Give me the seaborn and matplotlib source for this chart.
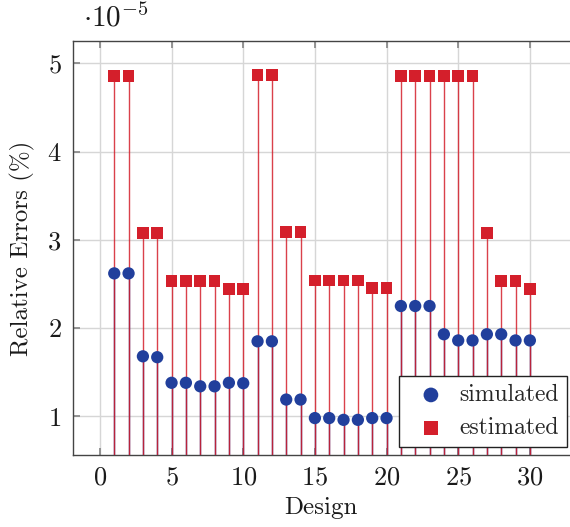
import numpy as np
import pandas as pd
import seaborn as sns
import matplotlib.pyplot as plt

sns.set_theme(style="whitegrid")
plt.rcParams['font.family'] = ['cmr10', 'DejaVu Serif']
plt.rcParams['mathtext.fontset'] = 'cm'
plt.rcParams['axes.formatter.use_mathtext'] = True

# values in units of 1e-5
design = list(range(1, 31))
simulated = [2.62, 2.62, 1.68, 1.67, 1.38, 1.38, 1.34, 1.34, 1.38, 1.375,
             1.85, 1.85, 1.19, 1.19, 0.98, 0.98, 0.96, 0.96, 0.98, 0.98,
             2.25, 2.25, 2.25, 1.93, 1.86, 1.86, 1.93, 1.93, 1.86, 1.86]
estimated = [4.86, 4.86, 3.08, 3.08, 2.53, 2.53, 2.53, 2.53, 2.44, 2.44,
             4.87, 4.87, 3.09, 3.09, 2.54, 2.54, 2.54, 2.54, 2.45, 2.45,
             4.86, 4.86, 4.86, 4.86, 4.86, 4.86, 3.08, 2.53, 2.53, 2.44]

blue = '#213f9c'
red = '#d41f2b'

df = pd.DataFrame({'design': design, 'simulated': simulated, 'estimated': estimated})

fig = plt.figure(figsize=(5.7, 5.27), dpi=100)
ax = fig.add_axes([0.1275, 0.1366, 0.8725, 0.786])

ymin, ymax = 0.5615, 5.256
ax.vlines(df['design'], ymin, df['simulated'], color=blue, lw=1.0, zorder=2)
ax.vlines(df['design'], ymin, df['estimated'], color=red, lw=1.0, alpha=0.85, zorder=3)

sns.scatterplot(data=df, x='design', y='simulated', ax=ax, color=blue, marker='o',
                s=78, edgecolor='none', label='simulated', zorder=4)
sns.scatterplot(data=df, x='design', y='estimated', ax=ax, color=red, marker='s',
                s=72, edgecolor='none', label='estimated', zorder=4)

ax.set_xlim(-1.9, 32.8)
ax.set_ylim(ymin, ymax)
ax.set_xticks([0, 5, 10, 15, 20, 25, 30])
ax.set_yticks([1, 2, 3, 4, 5])
ax.grid(True, color='#d6d6d6', lw=1.0)
ax.set_facecolor('white')
for side in ['left', 'bottom', 'top']:
    ax.spines[side].set_color('#444444')
    ax.spines[side].set_linewidth(1.0)
ax.spines['right'].set_visible(False)
ax.tick_params(axis='both', direction='in', length=5, color='#888888', labelsize=19,
               labelcolor='#1a1a1a', top=True, left=True, bottom=True, pad=8)

ax.set_xlabel('Design', fontsize=18, color='#1a1a1a', labelpad=5)
ax.set_ylabel('Relative Errors (%)', fontsize=18, color='#1a1a1a', labelpad=9)
ax.text(0.02, 1.02, r'$\cdot 10^{-5}$', transform=ax.transAxes, fontsize=21,
        color='#1a1a1a', ha='left', va='bottom')

leg = ax.legend(loc='lower right', bbox_to_anchor=(0.994, 0.019), borderaxespad=0,
                fontsize=17, frameon=True, fancybox=False, framealpha=1,
                edgecolor='#222222', handletextpad=0.2, handlelength=2.0,
                borderpad=0.35, labelspacing=0.45, markerscale=1.2)
leg.get_frame().set_linewidth(1.0)

fig.savefig('out.png', dpi=100)
